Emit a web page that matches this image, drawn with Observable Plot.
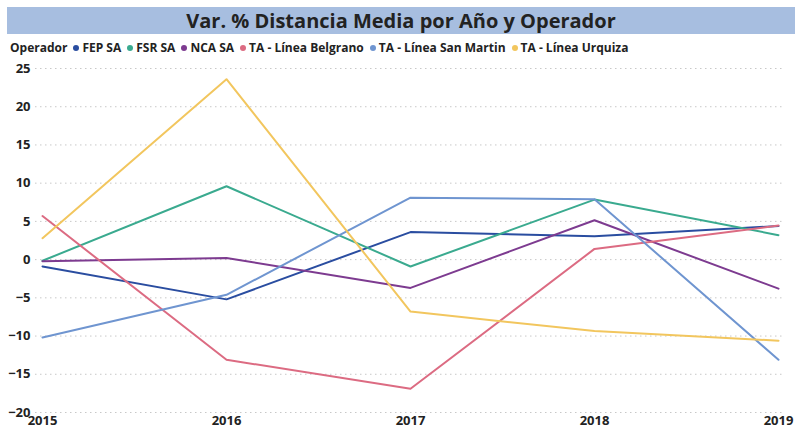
<!DOCTYPE html>
<html>
<head>
<meta charset="utf-8">
<script src="https://cdn.jsdelivr.net/npm/d3@7"></script>
<script src="https://cdn.jsdelivr.net/npm/@observablehq/plot@0.6"></script>
<style>
  html, body { margin: 0; padding: 0; background: #fff; }
  body { width: 795px; height: 430px; overflow: hidden; font-family: "Open Sans", sans-serif; }
  #title { position: absolute; left: 7px; top: 7px; width: 788px; height: 27px; background: #a7bee0;
    font-weight: 700; font-size: 20px; line-height: 27px; text-align: center; color: #222; }
  #legend { position: absolute; left: 10px; top: 39px; height: 18px; font-weight: 700; font-size: 12px;
    line-height: 18px; color: #222; white-space: nowrap; }
  #legend span.item { margin-left: 6px; }
  #legend span.dot { display: inline-block; width: 6px; height: 6px; border-radius: 50%; margin-right: 3px; vertical-align: 1px; }
  #chart { position: absolute; left: 0; top: 60px; }
</style>
</head>
<body>
<div id="title">Var. % Distancia Media por Año y Operador</div>
<div id="legend"></div>
<div id="chart"></div>
<script>
const years = [2015, 2016, 2017, 2018, 2019];
const operators = ["FEP SA", "FSR SA", "NCA SA", "TA - Línea Belgrano", "TA - Línea San Martin", "TA - Línea Urquiza"];
const colors = ["#2a4da0", "#3aaa8f", "#7d3b90", "#dc6b82", "#6f95d0", "#f2c65e"];
const fepSA = [-0.9, -5.2, 3.6, 3.05, 4.4];
const fsrSA = [-0.15, 9.6, -0.9, 7.85, 3.2];
const ncaSA = [-0.2, 0.2, -3.7, 5.15, -3.8];
const belgrano = [5.7, -13.1, -16.9, 1.4, 4.45];
const sanMartin = [-10.2, -4.6, 8.1, 7.9, -13.1];
const urquiza = [2.8, 23.6, -6.8, -9.35, -10.6];
const yTicks = [-20, -15, -10, -5, 0, 5, 10, 15, 20, 25];

const series = [fepSA, fsrSA, ncaSA, belgrano, sanMartin, urquiza];
const data = [];
operators.forEach((op, i) => years.forEach((yr, j) => data.push({op, year: yr, value: series[i][j]})));

const legend = document.getElementById("legend");
legend.innerHTML = "Operador" + operators.map((op, i) =>
  `<span class="item"><span class="dot" style="background:${colors[i]}"></span>${op}</span>`).join("");

const chart = Plot.plot({
  width: 795,
  height: 370,
  marginLeft: 42,
  marginRight: 17,
  marginTop: 8,
  marginBottom: 18,
  style: { fontFamily: "Open Sans, sans-serif", fontSize: "13px", fontWeight: 700, color: "#222", background: "white" },
  x: { domain: [2015, 2019], ticks: years, tickFormat: d => String(d), tickSize: 0, tickPadding: 3, label: null },
  y: { domain: [-20, 25], ticks: yTicks, tickSize: 0, tickPadding: 12, label: null },
  color: { domain: operators, range: colors },
  marks: [
    Plot.ruleY(yTicks, { stroke: "#c8c8c8", strokeDasharray: "1.5,3.5", strokeWidth: 1, insetLeft: -7, insetRight: -5 }),
    Plot.line(data, { x: "year", y: "value", z: "op", stroke: "op", strokeWidth: 2 })
  ]
});
document.getElementById("chart").appendChild(chart);
</script>
</body>
</html>
